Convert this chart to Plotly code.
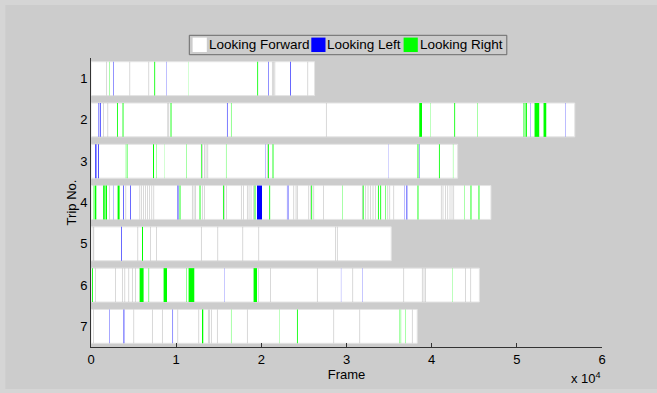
import plotly.graph_objects as go

trips = [1, 2, 3, 4, 5, 6, 7]
trip_frames = [26250, 56800, 43050, 46960, 35250, 45600, 38300]
x_tick_vals = [0, 10000, 20000, 30000, 40000, 50000, 60000]
x_tick_text = ["0", "1", "2", "3", "4", "5", "6"]
legend_labels = ["Looking Forward", "Looking Left", "Looking Right"]

# Looking Left events: trip, start frame, duration (frames)
left_trip = [1, 1, 1, 1,
             2, 2, 2, 2, 2,
             3, 3, 3, 3, 3, 3,
             4, 4, 4, 4, 4, 4, 4, 4, 4,
             5,
             6, 6, 6,
             7, 7, 7]
left_start = [2618, 8840, 20850, 23400,
              892, 1092, 15966, 51609, 55718,
              505, 657, 857, 20463, 34938, 38578,
              2653, 3757, 4614, 10167, 19488, 23010, 23160, 36781, 37051,
              3522,
              15649, 29350, 31886,
              2184, 3827, 9580]
left_len = [50, 30, 50, 70,
            70, 70, 60, 30, 30,
            80, 50, 80, 30, 20, 40,
            30, 70, 70, 90, 590, 40, 40, 30, 80,
            70,
            25, 20, 25,
            40, 80, 50]

# Looking Right events: trip, start frame, duration (frames)
right_trip = [1, 1, 1, 1,
              2, 2, 2, 2, 2, 2, 2, 2, 2, 2, 2, 2,
              3, 3, 3, 3, 3, 3, 3, 3, 3, 3, 3, 3, 3,
              4, 4, 4, 4, 4, 4, 4, 4, 4, 4, 4, 4, 4, 4, 4, 4, 4, 4, 4, 4, 4,
              5,
              6, 6, 6, 6, 6, 6, 6, 6,
              7, 7, 7, 7, 7, 7, 7]
right_start = [2184, 7430, 11460, 19520,
               3052, 3710, 9345, 16436, 38543, 39836, 42653, 45388, 50787, 51022, 52078, 53135,
               4090, 4250, 7279, 7666, 8641, 11188, 12914, 15849, 20780, 21320, 38343, 40855, 42499,
               235, 423, 1409, 1561, 1714, 3123, 10402, 12750, 15497, 19207, 20933, 25863, 29538,
               31910, 33694, 33964, 34551, 38343, 43826, 44565, 45504,
               5987,
               117, 5706, 6762, 8523, 11188, 11458, 19089, 42452,
               13031, 16436, 22142, 24184, 36194, 36370, 36899]
right_len = [40, 100, 20, 100,
             100, 100, 100, 50, 320, 30, 100, 40, 100, 160, 550, 320,
             50, 50, 120, 40, 20, 40, 80, 40, 100, 100, 100, 100, 30,
             40, 200, 100, 100, 164, 235, 100, 100, 100, 100, 100, 100, 40,
             100, 100, 100, 60, 100, 40, 100, 100,
             120,
             100, 470, 60, 400, 50, 670, 400, 30,
             150, 40, 30, 100, 40, 40, 40]

# Boundaries between Looking Forward segments: trip, frame
break_trip = ([1] * 7 + [2] * 5 + [3] * 5 + [4] * 46 + [5] * 11 + [6] * 17 + [7] * 14)
break_frame = [1796, 4532, 6762, 21250, 21400, 21560, 25430,
               1409, 1949, 8993, 9110, 27589,
               13067, 13302, 13478, 13689, 20662,
               2113, 4062, 5706, 5905, 6140, 6375, 6610, 6845, 7114, 7349, 11857, 12069,
               12245, 13031, 13302, 15649, 15884, 17610, 17880, 18314, 18525, 18760, 19054,
               23785, 24044, 24185, 25546, 25746, 26133, 27272, 31815, 32202, 32496, 32789,
               33083, 33376, 34821, 35056, 35526, 41090, 41301, 41595, 41865, 42123, 42358,
               42569,
               211, 305, 5471, 6962, 7666, 12914, 14863, 17798, 19676, 28681, 28880,
               505, 2853, 3639, 3945, 4414, 4813, 5201, 19606, 21050, 26532, 30712, 36699,
               38859, 39070, 39246, 43943, 44565,
               235, 5001, 7161, 8335, 10167, 12632, 13736, 13888, 14088, 14792, 18314, 28481,
               31534, 37685]

FONT = "Liberation Sans, Arial, sans-serif"
BG = "#cccccc"
FRAME_BG = "#d5d5d5"
BAR_W = 0.82
BREAK_W = 60
COLORS = ["#ffffff", "#0000ff", "#00ff00"]

fig = go.Figure()
fig.add_trace(go.Bar(
    name=legend_labels[0], y=trips, x=trip_frames, base=[0] * len(trips),
    orientation="h", width=BAR_W, showlegend=False,
    marker=dict(color="rgba(255,255,255,0.999)", line=dict(color="#e4e4e4", width=1)),
    hoverinfo="skip"))
fig.add_trace(go.Bar(
    name="breaks", y=break_trip, x=[BREAK_W] * len(break_frame), base=break_frame,
    orientation="h", width=BAR_W, showlegend=False,
    marker=dict(color="rgba(180,180,180,0.999)", line=dict(width=0)),
    hoverinfo="skip"))
fig.add_trace(go.Bar(
    name=legend_labels[1], y=left_trip, x=left_len, base=left_start,
    orientation="h", width=BAR_W, showlegend=False,
    marker=dict(color="rgba(0,0,255,0.999)", line=dict(width=0)),
    hoverinfo="skip"))
fig.add_trace(go.Bar(
    name=legend_labels[2], y=right_trip, x=right_len, base=right_start,
    orientation="h", width=BAR_W, showlegend=False,
    marker=dict(color="rgba(0,255,0,0.999)", line=dict(width=0)),
    hoverinfo="skip"))

# pixel -> paper helpers for the (MATLAB-style) legend box
L, R, T, B = 90.7, 601.7, 58.0, 347.0
def px(x):
    return (x - L) / (R - L)
def py(y):
    return (B - y) / (B - T)

shapes = [
    # lighter window frame behind the figure area
    dict(type="rect", xref="paper", yref="paper", layer="below",
         x0=px(5), x1=px(660), y0=py(389), y1=py(5),
         fillcolor=BG, line=dict(width=0)),
    # legend box
    dict(type="rect", xref="paper", yref="paper",
         x0=px(189), x1=px(506.5), y0=py(54.7), y1=py(35.3),
         fillcolor=BG, line=dict(color="#6a6a6a", width=1)),
]
annotations = []
sw_x = [192.3, 311.0, 403.3]
tx_x = [208.3, 326.7, 419.3]
for i in range(3):
    shapes.append(dict(type="rect", xref="paper", yref="paper",
                       x0=px(sw_x[i]), x1=px(sw_x[i] + 14.2), y0=py(52.0), y1=py(37.6),
                       fillcolor=COLORS[i], line=dict(width=0)))
    annotations.append(dict(text=legend_labels[i], xref="paper", yref="paper",
                            x=px(tx_x[i]), y=py(44.6), xanchor="left", yanchor="middle",
                            showarrow=False, xshift=-2,
                            font=dict(family=FONT, size=13.5, color="#000000")))
annotations.append(dict(text="x 10<sup>4</sup>", xref="paper", yref="paper",
                        x=px(603), y=py(378), xanchor="right", yanchor="middle",
                        showarrow=False, font=dict(family=FONT, size=13, color="#000000")))

fig.update_layout(
    width=657, height=393,
    margin=dict(l=91, r=55, t=58, b=46, pad=0),
    paper_bgcolor=FRAME_BG, plot_bgcolor=BG,
    barmode="overlay", bargap=0.2,
    font=dict(family=FONT, size=13, color="#000000"),
    showlegend=False,
    xaxis=dict(range=[0, 60000], tickvals=x_tick_vals, ticktext=x_tick_text,
               ticks="inside", ticklen=4, tickcolor="#333333",
               showline=True, linecolor="#333333", linewidth=1,
               showgrid=False, zeroline=False, automargin=False,
               title=dict(text="Frame", standoff=0, font=dict(size=13))),
    yaxis=dict(range=[7.5, 0.5], tickvals=trips, ticktext=[str(t) for t in trips],
               ticks="", showline=True, linecolor="#333333", linewidth=1,
               showgrid=False, zeroline=False, automargin=False,
               title=dict(text="Trip No.", standoff=0, font=dict(size=13))),
    shapes=shapes,
    annotations=annotations,
)

fig.write_html("out.html", config={"displayModeBar": False},
               post_script="document.body.style.margin='0px';")
